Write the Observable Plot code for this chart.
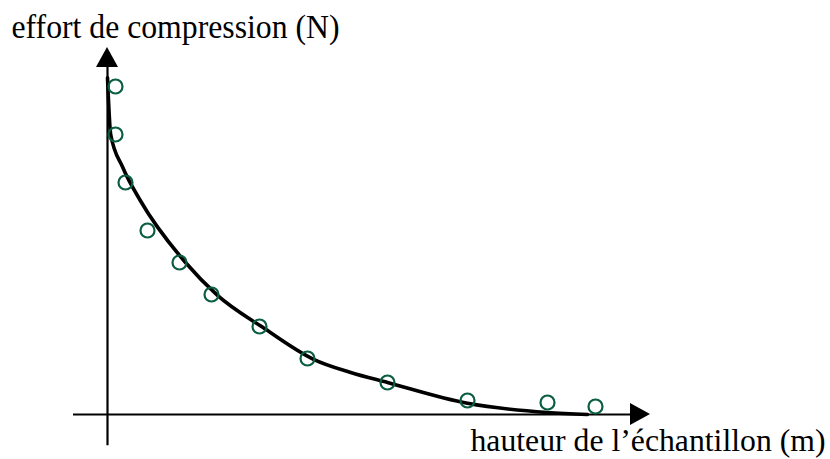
<!DOCTYPE html>
<html>
<head>
<meta charset="utf-8">
<script src="https://cdn.jsdelivr.net/npm/d3@7"></script>
<script src="https://cdn.jsdelivr.net/npm/@observablehq/plot@0.6"></script>
<style>
  html, body { margin: 0; padding: 0; background: #fff; }
  #chart svg { display: block; background: #fff; }
</style>
</head>
<body>
<div id="chart"></div>
<script>
// Mesures (points)
const hauteur = [1, 1, 2.25, 5, 9, 13, 19, 25, 35, 45, 55, 61];
const effort  = [41, 35, 29, 23, 19, 15, 11, 7, 4, 1.75, 1.5, 1];

// Courbe de tendance
const courbeHauteur = [0, 0.4, 1.9, 4.1, 9.75, 13.75, 19.4, 25.75, 30.4, 35, 45, 55, 60];
const courbeEffort  = [42.1, 35, 30.9, 26.75, 19, 14.9, 10.9, 6.9, 5.25, 4, 1.4, 0.25, 0];

// Libellés
const titreY = "effort de compression (N)";
const titreX = "hauteur de l\u2019échantillon (m)";

const points = hauteur.map((h, i) => ({h, f: effort[i]}));
const courbe = courbeHauteur.map((h, i) => ({h, f: courbeEffort[i]}));

const font = "'Liberation Serif', 'Times New Roman', serif";

const chart = Plot.plot({
  width: 830,
  height: 459,
  margin: 0,
  x: {domain: [-13.375, 90.375], range: [0, 830], axis: null},
  y: {domain: [-5.625, 51.75], range: [459, 0], axis: null},
  marks: [
    // axe vertical
    Plot.ruleX([0], {y1: -3.9, y2: 44, stroke: "#000", strokeWidth: 2.2}),
    Plot.areaX([{y: 43.375, a: -1.375, b: 1.375}, {y: 45.875, a: 0, b: 0}], {y: "y", x1: "a", x2: "b", fill: "#000", curve: "linear"}),
    // axe horizontal
    Plot.ruleY([0], {x1: -4.25, x2: 66, stroke: "#000", strokeWidth: 2.2}),
    Plot.areaY([{x: 65.375, a: -1.375, b: 1.375}, {x: 67.875, a: 0, b: 0}], {x: "x", y1: "a", y2: "b", fill: "#000", curve: "linear"}),
    // courbe
    Plot.line(courbe, {x: "h", y: "f", stroke: "#000", strokeWidth: 3.6, curve: "monotone-x"}),
    // points
    Plot.dot(points, {x: "h", y: "f", r: 7, stroke: "#0b5e43", strokeWidth: 2.2, fill: "none"}),
    // libellés
    Plot.text([titreY], {frameAnchor: "top-left", dx: 11, dy: 37.5, text: d => d, textAnchor: "start", lineAnchor: "bottom", fontSize: 33, fontFamily: font, fill: "#000"}),
    Plot.text([titreX], {frameAnchor: "top-left", dx: 470, dy: 450, text: d => d, textAnchor: "start", lineAnchor: "bottom", fontSize: 32, fontFamily: font, fill: "#000"})
  ]
});
// ajuster la largeur des libellés à celle de la référence
const largeurs = new Map([[titreY, 328], [titreX, 355]]);
d3.select(chart).selectAll("text").each(function() {
  const w = largeurs.get(this.textContent);
  if (w) {
    this.setAttribute("textLength", w);
    this.setAttribute("lengthAdjust", "spacingAndGlyphs");
  }
});
document.getElementById("chart").appendChild(chart);
</script>
</body>
</html>
